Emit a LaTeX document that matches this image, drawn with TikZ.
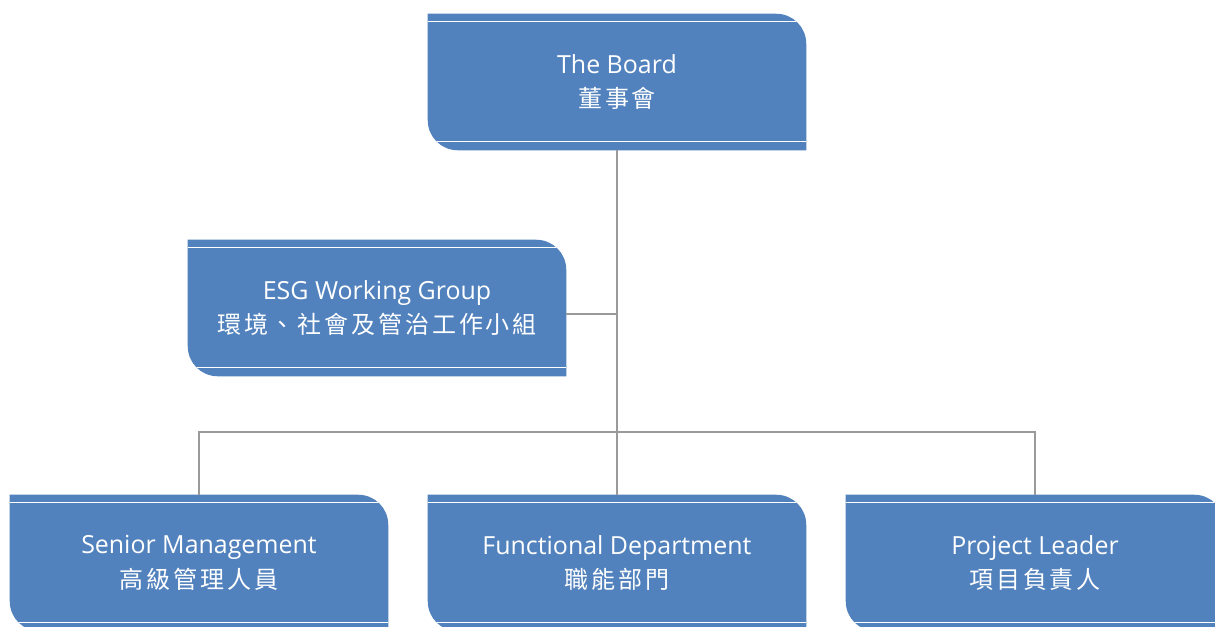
\documentclass[tikz,border=0pt]{standalone}
\usepackage{fontspec}
\setmainfont{Open Sans}
\newfontfamily\cjk[LetterSpace=12]{Noto Sans CJK TC}
\usetikzlibrary{backgrounds}
\definecolor{boxblue}{HTML}{5282BD}
\definecolor{lineclr}{HTML}{9A9A9A}
\begin{document}
\begin{tikzpicture}[x=0.75pt, y=-0.75pt,
    unit/.style={minimum width=283.5pt, minimum height=102pt, inner sep=0pt,
      align=center, text=white, font=\fontsize{18.7}{26}\selectfont},
    link/.style={draw=lineclr, line width=1.5pt}]
    \useasboundingbox (0,0) rectangle (1215,626);
    \clip (0,0) rectangle (1215,626);
    \newcommand\zh[1]{{\cjk\fontsize{18}{26}\selectfont #1}}
    \node[unit] (board) at (617,82) {The Board\\\zh{董事會}};
    \node[unit] (esg) at (377,308) {ESG Working Group\\\zh{環境、社會及管治工作小組}};
    \node[unit] (senior) at (199,563) {Senior Management\\\zh{高級管理人員}};
    \node[unit] (func) at (617,563) {Functional Department\\\zh{職能部門}};
    \node[unit] (proj) at (1035,563) {Project Leader\\\zh{項目負責人}};
    \coordinate (bus) at (617,432);
    \coordinate (esgin) at ([yshift=-4.5pt]esg.east);
    % box shapes behind the text
    \begin{scope}[on background layer]
      \foreach \n in {board,esg,senior,func,proj} {
        \fill[boxblue, path picture={
            \draw[white, line width=1.1pt]
              ([yshift=-6pt]path picture bounding box.north west) -- ([yshift=-6pt]path picture bounding box.north east)
              ([yshift=6.75pt]path picture bounding box.south west) -- ([yshift=6.75pt]path picture bounding box.south east);}]
          (\n.north west) -- ([xshift=-22.5pt]\n.north east) arc[start angle=90, end angle=0, radius=22.5pt]
          -- (\n.south east) -- ([xshift=22.5pt]\n.south west) arc[start angle=270, end angle=180, radius=22.5pt] -- cycle;
      }
    \end{scope}
    \draw[link] (board) -- (func);
    \draw[link] (esgin) -- (esgin -| board.south);
    \draw[link] (senior.north) |- (bus) -| (proj.north);
  \end{tikzpicture}
\end{document}
